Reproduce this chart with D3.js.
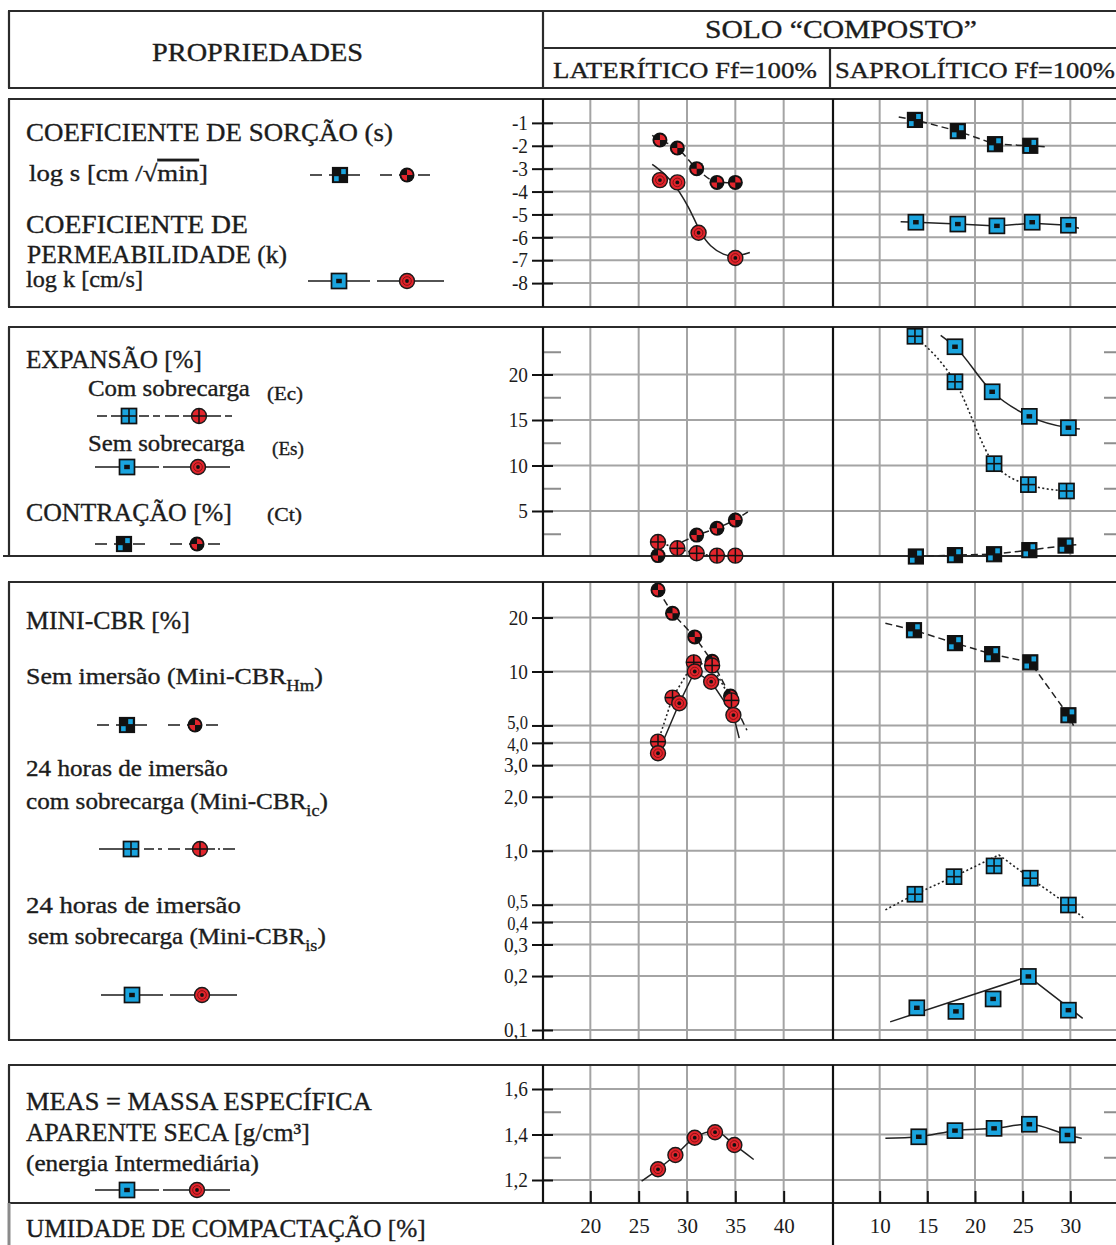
<!DOCTYPE html>
<html>
<head>
<meta charset="utf-8">
<script src="https://cdn.jsdelivr.net/npm/d3@7"></script>
<style>
  body { margin: 0; background: #fff; }
  svg { display: block; }
  text { font-family: "Liberation Serif", "Times New Roman", serif; fill: #1c1c1c; }
  .lbl { stroke: #1c1c1c; stroke-width: 0.35px; }
</style>
</head>
<body>
<svg id="chart" width="1116" height="1245"></svg>
<script>
// ---------------- data ----------------
// moisture content (%) ticks for each soil
const latTicks = [20, 25, 30, 35, 40];
const sapTicks = [10, 15, 20, 25, 30];

// log s and log k
const p1Ticks = [-1, -2, -3, -4, -5, -6, -7, -8];
const latSorp = [[27.2, -1.75], [29.0, -2.1], [31.0, -3.0], [33.1, -3.6], [35.0, -3.6]];
const latSorpFit = [[26.4, -1.55], [27.2, -1.75], [29.0, -2.1], [31.0, -3.0], [33.1, -3.58], [35.0, -3.62], [36.0, -3.6]];
const latPerm = [[27.2, -3.5], [29.0, -3.6], [31.2, -5.8], [35.0, -6.9]];
const latPermFit = [[26.4, -2.81], [28.4, -3.43], [30.3, -4.74], [31.3, -5.76], [32.4, -6.42], [33.8, -6.78], [35.0, -6.86], [36.5, -6.66]];
const sapSorp = [[13.7, -0.87], [18.2, -1.36], [22.1, -1.93], [25.8, -2.0]];
const sapSorpFit = [[12.0, -0.74], [13.7, -0.87], [18.2, -1.36], [22.1, -1.93], [25.8, -2.0], [27.4, -2.05]];
const sapPerm = [[13.8, -5.34], [18.2, -5.42], [22.3, -5.5], [26.0, -5.34], [29.8, -5.47]];
const sapPermFit = [[12.2, -5.32], [13.8, -5.34], [18.2, -5.42], [22.3, -5.5], [26.0, -5.38], [29.8, -5.47], [30.9, -5.6]];

// expansion / contraction (%)
const p2Ticks = [5, 10, 15, 20];
const p2Minor = [2.5, 7.5, 12.5, 17.5, 22.5];
const latEc = [[27.0, 1.6], [29.0, 0.9], [31.0, 0.35], [33.1, 0.1], [35.0, 0.1]];
const latCt = [[27.0, 0.1], [31.0, 2.35], [33.1, 3.1], [35.0, 4.0]];
const latCtFit = [[29.5, 1.6], [31.0, 2.35], [33.1, 3.1], [35.0, 4.0], [36.3, 4.9]];
const sapEc = [[13.7, 24.2], [17.9, 19.2], [22.0, 10.2], [25.6, 7.9], [29.6, 7.2]];
const sapEs = [[17.9, 23.05], [21.8, 18.1], [25.7, 15.4], [29.8, 14.15]];
const sapEsFit = [[16.4, 24.3], [17.9, 23.05], [21.8, 18.1], [25.7, 15.4], [29.8, 14.15], [31.0, 14.0]];
const sapCt = [[13.8, 0.0], [17.9, 0.15], [22.0, 0.25], [25.7, 0.7], [29.5, 1.2]];
const sapCtFit = [[13.8, 0.0], [17.9, 0.15], [22.0, 0.25], [25.7, 0.7], [29.5, 1.2], [30.9, 1.3]];

// Mini-CBR (%), log scale
const p3Ticks = [20, 10, 5, 4, 3, 2, 1, 0.5, 0.4, 0.3, 0.2, 0.1];
const p3Labels = ["20", "10", "5,0", "4,0", "3,0", "2,0", "1,0", "0,5", "0,4", "0,3", "0,2", "0,1"];
const latHm = [[27.0, 28.5], [28.5, 21.1], [30.8, 15.6], [32.6, 11.4], [34.5, 7.3]];
const latHmFit = [[27.0, 28.5], [28.5, 21.1], [30.8, 15.6], [32.6, 11.4], [34.5, 7.3], [36.2, 4.7]];
const latIc = [[27.0, 4.06], [28.5, 7.15], [30.7, 11.25], [32.6, 10.8], [34.6, 6.9]];
const latIs = [[27.0, 3.5], [29.2, 6.65], [30.8, 10.0], [32.5, 8.77], [34.8, 5.71]];
const latIsFit = [[27.0, 3.5], [29.2, 6.65], [30.8, 10.0], [32.5, 8.77], [34.8, 5.71], [35.4, 4.25]];
const sapHm = [[13.6, 17.0], [17.9, 14.4], [21.8, 12.5], [25.8, 11.25], [29.8, 5.7]];
const sapHmFit = [[10.6, 18.6], [13.6, 17.0], [17.9, 14.4], [21.8, 12.5], [25.8, 11.25], [29.8, 5.7], [30.5, 4.8]];
const sapIc = [[13.7, 0.572], [17.8, 0.717], [22.0, 0.823], [25.8, 0.703], [29.8, 0.498]];
const sapIcFit = [[10.6, 0.468], [13.7, 0.572], [17.8, 0.717], [22.5, 0.948], [25.8, 0.703], [29.8, 0.498], [31.4, 0.42]];
const sapIs = [[13.9, 0.133], [18.0, 0.127], [21.9, 0.149], [25.6, 0.199], [29.8, 0.129]];
const sapIsFit = [[11.1, 0.111], [25.6, 0.199], [31.3, 0.116]];

// dry unit weight (g/cm3)
const p4Ticks = [1.2, 1.4, 1.6];
const p4Labels = ["1,2", "1,4", "1,6"];
const p4Minor = [1.3, 1.5];
const latMeas = [[27.0, 1.247], [28.8, 1.31], [30.8, 1.386], [32.9, 1.41], [34.9, 1.354]];
const latMeasFit = [[25.3, 1.195], [27.0, 1.247], [28.8, 1.31], [30.8, 1.386], [32.9, 1.415], [34.9, 1.354], [36.9, 1.29]];
const sapMeas = [[14.1, 1.39], [17.9, 1.417], [22.0, 1.427], [25.7, 1.445], [29.7, 1.398]];
const sapMeasFit = [[10.6, 1.383], [14.1, 1.39], [17.9, 1.417], [22.0, 1.427], [25.7, 1.445], [29.7, 1.398], [31.2, 1.383]];

// ---------------- layout ----------------
const svg = d3.select("#chart");
const BLUE = "#1aa4de", RED = "#e2252c", GRID = "#a4a4a4";
const AX = 543, DIV = 833, RIGHT = 1118, LEFT = 9;

const latX = d3.scaleLinear().domain([15, 45]).range([542, 832]);
const sapX = d3.scaleLinear().domain([5, 35]).range([832, 1118]);

const panels = {
  1: { top: 99, bottom: 307, y: d3.scaleLinear().domain([0, -9]).range([100, 306]) },
  2: { top: 327, bottom: 556, y: d3.scaleLinear().domain([0, 25]).range([556.5, 329]) },
  3: { top: 582, bottom: 1040, y: d3.scaleLog().domain([0.1, 10]).range([1030, 671.5]) },
  4: { top: 1065, bottom: 1203, y: d3.scaleLinear().domain([1.2, 1.6]).range([1180, 1089]) }
};

const gGrid = svg.append("g");
const gFrame = svg.append("g");
const gLines = svg.append("g");
const gMarks = svg.append("g");
const gText = svg.append("g");

function hline(g, x1, x2, y, color, w) {
  g.append("line").attr("x1", x1).attr("x2", x2).attr("y1", y).attr("y2", y)
    .attr("stroke", color).attr("stroke-width", w);
}
function vline(g, x, y1, y2, color, w) {
  g.append("line").attr("x1", x).attr("x2", x).attr("y1", y1).attr("y2", y2)
    .attr("stroke", color).attr("stroke-width", w);
}

// text condensed horizontally to a given width (narrow book face look)
function fitText(g, x, y, w, size, parts) {
  const t = g.append("text").attr("class", "lbl").style("font-size", size + "px");
  parts.forEach(p => {
    const sp = t.append("tspan").text(p.t);
    if (p.sub) sp.attr("dy", size * 0.3).style("font-size", (size * 0.72) + "px");
    if (p.up) sp.attr("dy", -size * 0.3);
    if (p.over) sp.style("text-decoration", "overline");
  });
  const len = t.node().getComputedTextLength();
  t.attr("transform", `translate(${x},${y}) scale(${(w / len).toFixed(4)},1)`);
  return t;
}

// ---------------- markers ----------------
const wedge = d3.arc().innerRadius(0).outerRadius(5.6);
function marker(g, shape, kind, cx, cy) {
  const m = g.append("g").attr("transform", `translate(${cx},${cy})`);
  if (shape === "sq") {
    const h = 7.5;
    if (kind === "quarter") {
      m.append("rect").attr("x", -h).attr("y", -h).attr("width", 2 * h).attr("height", 2 * h)
        .attr("fill", "#111").attr("stroke", "#111").attr("stroke-width", 1.2);
      m.append("rect").attr("x", 1.2).attr("y", -h + 1.6).attr("width", 4.6).attr("height", 5).attr("fill", BLUE);
      m.append("rect").attr("x", -h + 1.6).attr("y", 1.2).attr("width", 4.6).attr("height", 5).attr("fill", BLUE);
    } else {
      m.append("rect").attr("x", -h).attr("y", -h).attr("width", 2 * h).attr("height", 2 * h)
        .attr("fill", BLUE).attr("stroke", "#111").attr("stroke-width", 1.7);
      if (kind === "dot") {
        m.append("rect").attr("x", -2.8).attr("y", -2.2).attr("width", 5.6).attr("height", 4.4).attr("fill", "#111");
      } else {
        hline(m, -h, h, 0, "#111", 1.6);
        vline(m, 0, -h, h, "#111", 1.6);
      }
    }
  } else {
    const r = 7.5;
    if (kind === "quarter") {
      m.append("circle").attr("r", r).attr("fill", "#111");
      m.append("path").attr("d", wedge({ startAngle: 0, endAngle: Math.PI / 2 })).attr("fill", RED);
      m.append("path").attr("d", wedge({ startAngle: Math.PI, endAngle: 1.5 * Math.PI })).attr("fill", RED);
    } else {
      m.append("circle").attr("r", r).attr("fill", RED).attr("stroke", "#1a1a1a").attr("stroke-width", 1.4);
      if (kind === "dot") {
        m.append("circle").attr("r", 4.3).attr("fill", "none").attr("stroke", "#7d0d10").attr("stroke-width", 0.9);
        m.append("circle").attr("r", 1.9).attr("fill", "#111");
      } else {
        hline(m, -r, r, 0, "#111", 1.5);
        vline(m, 0, -r, r, "#111", 1.5);
      }
    }
  }
}

const DASH = { solid: null, dash: "7,4", dot: "2,2.5" };

// closely spaced log labels are nudged apart a little
const nudge = { "5,0": -2.5, "4,0": 2, "0,5": -2.5, "0,4": 2 };

// ---------------- grid, axes and frames ----------------
Object.entries(panels).forEach(([k, p]) => {
  const id = +k;
  latTicks.forEach(v => vline(gGrid, latX(v), p.top, p.bottom, GRID, 2));
  sapTicks.forEach(v => vline(gGrid, sapX(v), p.top, p.bottom, GRID, 2));
  const ticks = id === 1 ? p1Ticks : id === 2 ? p2Ticks : id === 3 ? p3Ticks : p4Ticks;
  const labels = id === 3 ? p3Labels : id === 4 ? p4Labels : ticks.map(String);
  ticks.forEach(v => hline(gGrid, AX, RIGHT, p.y(v), GRID, 2));

  const axis = d3.axisLeft(p.y).tickValues(ticks)
    .tickFormat((d, i) => labels[i]).tickSize(11).tickPadding(4);
  const ga = gFrame.append("g").attr("transform", `translate(${AX},0)`).call(axis);
  ga.select(".domain").remove();
  ga.selectAll(".tick line").attr("x1", 10).attr("stroke", "#111").attr("stroke-width", 2);
  ga.selectAll(".tick text")
    .style("font-size", function () { return nudge[this.textContent] !== undefined ? "18px" : "21px"; })
    .style("font-family", '"Liberation Serif", serif')
    .attr("fill", "#2a2a3a")
    .attr("transform", function () { return `translate(0,${nudge[this.textContent] || 0}) scale(0.92,1)`; })
    .attr("x", -15 / 0.92);

  const minor = id === 2 ? p2Minor : id === 4 ? p4Minor : null;
  if (minor) {
    const gm = gFrame.append("g").attr("transform", `translate(${AX},0)`)
      .call(d3.axisLeft(p.y).tickValues(minor).tickFormat("").tickSize(-18));
    gm.select(".domain").remove();
    gm.selectAll(".tick line").attr("stroke", "#8d8d8d").attr("stroke-width", 2);
    const gr = gFrame.append("g").attr("transform", `translate(${RIGHT},0)`)
      .call(d3.axisRight(p.y).tickValues(minor).tickFormat("").tickSize(-14));
    gr.select(".domain").remove();
    gr.selectAll(".tick line").attr("stroke", "#8d8d8d").attr("stroke-width", 2);
  }

  hline(gFrame, LEFT - 1, RIGHT, p.top, "#2b2b2b", 2.2);
  hline(gFrame, id === 2 ? 3 : LEFT - 1, RIGHT, p.bottom, "#2b2b2b", 2.2);
  vline(gFrame, LEFT, p.top, p.bottom, "#2b2b2b", 2.2);
  vline(gFrame, AX, p.top, p.bottom, "#111", 2.2);
  vline(gFrame, DIV, p.top, id === 4 ? 1245 : p.bottom, "#111", 2.2);
});

// moisture axes at the foot of the chart
const p4 = panels[4];
[[latX, latTicks], [sapX, sapTicks]].forEach(([sx, tv]) => {
  const gx = gFrame.append("g").attr("transform", `translate(0,${p4.bottom})`)
    .call(d3.axisBottom(sx).tickValues(tv).tickSize(-12).tickPadding(15));
  gx.select(".domain").remove();
  gx.selectAll(".tick line").attr("stroke", "#111").attr("stroke-width", 2);
  gx.selectAll(".tick text").style("font-size", "21px").style("font-family", '"Liberation Serif", serif').attr("fill", "#2a2a3a");
});
vline(gFrame, LEFT, p4.bottom, 1245, "#8a8a8a", 3);

// header table
hline(gFrame, LEFT - 1, RIGHT, 11, "#2b2b2b", 2.2);
hline(gFrame, LEFT - 1, RIGHT, 88, "#2b2b2b", 2.2);
vline(gFrame, LEFT, 11, 88, "#2b2b2b", 2.2);
vline(gFrame, AX, 11, 88, "#2b2b2b", 2.2);
hline(gFrame, AX, RIGHT, 48, "#2b2b2b", 2.2);
vline(gFrame, 830, 48, 88, "#2b2b2b", 2.2);

// ---------------- series ----------------
const series = [
  { p: 1, sx: latX, pts: latSorp, fit: latSorpFit, shape: "ci", kind: "quarter", dash: "dash", curve: d3.curveMonotoneX },
  { p: 1, sx: latX, pts: latPerm, fit: latPermFit, shape: "ci", kind: "dot", dash: "solid", curve: d3.curveBasis },
  { p: 1, sx: sapX, pts: sapSorp, fit: sapSorpFit, shape: "sq", kind: "quarter", dash: "dash", curve: d3.curveLinear },
  { p: 1, sx: sapX, pts: sapPerm, fit: sapPermFit, shape: "sq", kind: "dot", dash: "solid", curve: d3.curveLinear },

  { p: 2, sx: latX, pts: latCt, fit: latCtFit, shape: "ci", kind: "quarter", dash: "dash", curve: d3.curveLinear },
  { p: 2, sx: latX, pts: latEc, fit: latEc, shape: "ci", kind: "cross", dash: "dot", curve: d3.curveMonotoneX },
  { p: 2, sx: sapX, pts: sapEc, fit: sapEc, shape: "sq", kind: "cross", dash: "dot", curve: d3.curveMonotoneX },
  { p: 2, sx: sapX, pts: sapEs, fit: sapEsFit, shape: "sq", kind: "dot", dash: "solid", curve: d3.curveMonotoneX },
  { p: 2, sx: sapX, pts: sapCt, fit: sapCtFit, shape: "sq", kind: "quarter", dash: "dash", curve: d3.curveLinear },

  { p: 3, sx: latX, pts: latHm, fit: latHmFit, shape: "ci", kind: "quarter", dash: "dash", curve: d3.curveLinear },
  { p: 3, sx: latX, pts: latIc, fit: latIc, shape: "ci", kind: "cross", dash: "dot", curve: d3.curveLinear },
  { p: 3, sx: latX, pts: latIs, fit: latIsFit, shape: "ci", kind: "dot", dash: "solid", curve: d3.curveLinear },
  { p: 3, sx: sapX, pts: sapHm, fit: sapHmFit, shape: "sq", kind: "quarter", dash: "dash", curve: d3.curveLinear },
  { p: 3, sx: sapX, pts: sapIc, fit: sapIcFit, shape: "sq", kind: "cross", dash: "dot", curve: d3.curveLinear },
  { p: 3, sx: sapX, pts: sapIs, fit: sapIsFit, shape: "sq", kind: "dot", dash: "solid", curve: d3.curveLinear },

  { p: 4, sx: latX, pts: latMeas, fit: latMeasFit, shape: "ci", kind: "dot", dash: "solid", curve: d3.curveMonotoneX },
  { p: 4, sx: sapX, pts: sapMeas, fit: sapMeasFit, shape: "sq", kind: "dot", dash: "solid", curve: d3.curveMonotoneX }
];

series.forEach(s => {
  const ys = panels[s.p].y;
  const line = d3.line().x(d => s.sx(d[0])).y(d => ys(d[1])).curve(s.curve);
  gLines.append("path").attr("d", line(s.fit)).attr("fill", "none")
    .attr("stroke", "#222").attr("stroke-width", s.dash === "dot" ? 1.6 : 1.5)
    .attr("stroke-dasharray", DASH[s.dash]);
  s.pts.forEach(d => marker(gMarks, s.shape, s.kind, s.sx(d[0]), ys(d[1])));
});

// ---------------- legend keys ----------------
function key(x1, x2, y, dash, shape, kind, mx) {
  gMarks.append("line").attr("x1", x1).attr("x2", x2).attr("y1", y).attr("y2", y)
    .attr("stroke", "#1a1a1a").attr("stroke-width", 1.6).attr("stroke-dasharray", dash);
  marker(gMarks, shape, kind, mx, y);
}
key(310, 364, 175, "12,7", "sq", "quarter", 340);
key(380, 435, 175, "12,7", "ci", "quarter", 407);
key(308, 370, 281, null, "sq", "dot", 339);
key(377, 444, 281, null, "ci", "dot", 407);

key(97, 160, 416, "10,4", "sq", "cross", 129);
key(165, 232, 416, "14,4,14,4,3,3", "ci", "cross", 199);
key(95, 159, 467, null, "sq", "dot", 127);
key(163, 230, 467, null, "ci", "dot", 198);
key(95, 148, 544, "12,7", "sq", "quarter", 124);
key(170, 223, 544, "12,7", "ci", "quarter", 197);

key(97, 152, 725, "12,7", "sq", "quarter", 127);
key(168, 222, 725, "12,7", "ci", "quarter", 195);
key(99, 162, 849, "40,5,10,4", "sq", "cross", 131);
key(168, 235, 849, "12,5,30,3,2,3", "ci", "cross", 200);
key(101, 163, 995, null, "sq", "dot", 132);
key(170, 237, 995, null, "ci", "dot", 202);

key(95, 159, 1190, null, "sq", "dot", 127);
key(163, 230, 1190, null, "ci", "dot", 197);

// ---------------- texts ----------------
fitText(gText, 152, 61, 211, 25, [{ t: "PROPRIEDADES" }]);
fitText(gText, 705, 38, 272, 26, [{ t: "SOLO “COMPOSTO”" }]);
fitText(gText, 553, 78, 264, 24, [{ t: "LATERÍTICO Ff=100%" }]);
fitText(gText, 835, 78, 280, 24, [{ t: "SAPROLÍTICO Ff=100%" }]);

fitText(gText, 26, 141, 367, 25, [{ t: "COEFICIENTE DE SORÇÃO (s)" }]);
fitText(gText, 29, 181, 179, 23, [{ t: "log s [cm /√" }, { t: "min", over: 1 }, { t: "]" }]);
fitText(gText, 26, 233, 222, 25, [{ t: "COEFICIENTE DE" }]);
fitText(gText, 27, 263, 260, 25, [{ t: "PERMEABILIDADE (k)" }]);
fitText(gText, 26, 287, 117, 23, [{ t: "log k [cm/s]" }]);

fitText(gText, 26, 368, 176, 25, [{ t: "EXPANSÃO [%]" }]);
fitText(gText, 88, 396, 162, 23, [{ t: "Com sobrecarga" }]);
fitText(gText, 267, 400, 36, 18, [{ t: "(Ec)" }]);
fitText(gText, 88, 451, 157, 23, [{ t: "Sem sobrecarga" }]);
fitText(gText, 272, 455, 32, 18, [{ t: "(Es)" }]);
fitText(gText, 26, 521, 206, 25, [{ t: "CONTRAÇÃO [%]" }]);
fitText(gText, 267, 521, 35, 18, [{ t: "(Ct)" }]);

fitText(gText, 26, 629, 164, 25, [{ t: "MINI-CBR [%]" }]);
fitText(gText, 26, 684, 297, 23, [{ t: "Sem imersão (Mini-CBR" }, { t: "Hm", sub: 1 }, { t: ")", up: 1 }]);
fitText(gText, 26, 776, 202, 23, [{ t: "24 horas de imersão" }]);
fitText(gText, 26, 809, 302, 23, [{ t: "com sobrecarga (Mini-CBR" }, { t: "ic", sub: 1 }, { t: ")", up: 1 }]);
fitText(gText, 26, 913, 215, 23, [{ t: "24  horas de  imersão" }]);
fitText(gText, 28, 944, 298, 23, [{ t: "sem sobrecarga (Mini-CBR" }, { t: "is", sub: 1 }, { t: ")", up: 1 }]);

fitText(gText, 26, 1110, 346, 25, [{ t: "MEAS = MASSA ESPECÍFICA" }]);
fitText(gText, 26, 1141, 284, 25, [{ t: "APARENTE SECA [g/cm³]" }]);
fitText(gText, 26, 1171, 233, 23, [{ t: "(energia Intermediária)" }]);
fitText(gText, 26, 1237, 400, 25, [{ t: "UMIDADE DE COMPACTAÇÃO  [%]" }]);
</script>
</body>
</html>
